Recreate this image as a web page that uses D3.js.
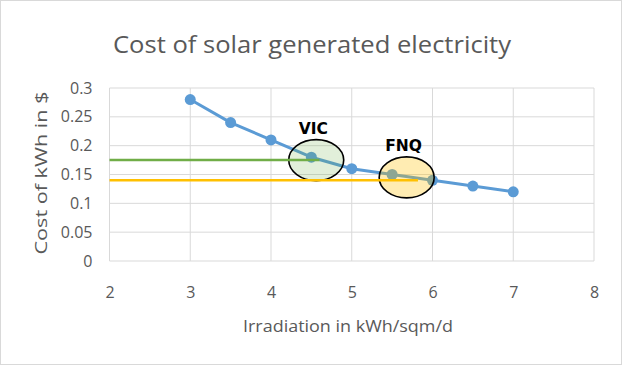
<!DOCTYPE html>
<html><head><meta charset="utf-8">
<script src="https://cdn.jsdelivr.net/npm/d3@7"></script>
<style>body{margin:0;background:#fff}svg{display:block}</style>
</head><body>
<script>
const irradiation = [3, 3.5, 4, 4.5, 5, 5.5, 6, 6.5, 7];
const cost = [0.28, 0.24, 0.21, 0.18, 0.16, 0.15, 0.14, 0.13, 0.12];
const xTicks = [2, 3, 4, 5, 6, 7, 8];
const yTicks = [0, 0.05, 0.1, 0.15, 0.2, 0.25, 0.3];
const refLabels = ["VIC", "FNQ"];
const refCost = [0.175, 0.14];
const refEndX = [4.6, 5.82];
const refColors = ["#70ad47", "#ffc000"];
const ellCx = [4.56, 5.68];
const ellCy = [0.175, 0.145];
const ellFill = ["rgba(112,173,71,0.2)", "rgba(255,192,0,0.3)"];

const W = 623, H = 366;
const svg = d3.select("body").append("svg").attr("width", W).attr("height", H);
svg.append("rect").attr("x", 0.5).attr("y", 0.5).attr("width", W - 2).attr("height", H - 2)
  .attr("fill", "#fff").attr("stroke", "#d9d9d9");

const x = d3.scaleLinear().domain([2, 8]).range([109.5, 594]);
const y = d3.scaleLinear().domain([0, 0.3]).range([261, 88]);
const font = "Open Sans, Noto Sans, sans-serif";

// gridlines
svg.append("g").selectAll("line").data(yTicks).join("line")
  .attr("x1", x(2)).attr("x2", x(8)).attr("y1", d => y(d)).attr("y2", d => y(d))
  .attr("stroke", "#d9d9d9").attr("stroke-width", 1);
svg.append("g").selectAll("line").data(xTicks).join("line")
  .attr("y1", y(0)).attr("y2", y(0.3)).attr("x1", d => x(d)).attr("x2", d => x(d))
  .attr("stroke", "#d9d9d9").attr("stroke-width", 1);

// axes labels
const yAxis = d3.axisLeft(y).tickValues(yTicks).tickFormat(d => d3.format("")(+d.toFixed(2))).tickSize(0).tickPadding(17);
const gy = svg.append("g").attr("transform", `translate(${x(2)},0)`).call(yAxis);
gy.select(".domain").remove();
gy.selectAll("text").attr("font-family", font).attr("font-size", 16).attr("fill", "#595959");

const xAxis = d3.axisBottom(x).tickValues(xTicks).tickFormat(d3.format("d")).tickSize(0).tickPadding(26);
const gx = svg.append("g").attr("transform", `translate(0,${y(0)})`).call(xAxis);
gx.select(".domain").remove();
gx.selectAll("text").attr("font-family", font).attr("font-size", 16).attr("fill", "#595959");

// title
svg.append("text").attr("x", 312).attr("y", 53).attr("text-anchor", "middle")
  .attr("font-family", font).attr("font-size", 24).attr("fill", "#595959")
  .attr("textLength", 398).attr("lengthAdjust", "spacingAndGlyphs").text("Cost of solar generated electricity");
svg.append("text").attr("x", 348).attr("y", 332).attr("text-anchor", "middle")
  .attr("font-family", font).attr("font-size", 17).attr("fill", "#595959")
  .attr("textLength", 210).attr("lengthAdjust", "spacingAndGlyphs").text("Irradiation in kWh/sqm/d");
svg.append("text").attr("transform", "translate(47,173) rotate(-90)").attr("text-anchor", "middle")
  .attr("font-family", font).attr("font-size", 17).attr("fill", "#595959")
  .attr("textLength", 163).attr("lengthAdjust", "spacingAndGlyphs").text("Cost of kWh in $");

// series
const line = d3.line().x((d, i) => x(irradiation[i])).y(d => y(d));
svg.append("path").datum(cost).attr("d", line).attr("fill", "none")
  .attr("stroke", "#5b9bd5").attr("stroke-width", 3).attr("stroke-linejoin", "round");
svg.append("g").selectAll("circle").data(cost).join("circle")
  .attr("cx", (d, i) => x(irradiation[i])).attr("cy", d => y(d)).attr("r", 5.5)
  .attr("fill", "#5b9bd5");

// ellipses
svg.append("g").selectAll("ellipse").data(ellCx).join("ellipse")
  .attr("cx", d => x(d)).attr("cy", (d, i) => y(ellCy[i])).attr("rx", 27.5).attr("ry", 20.5)
  .attr("fill", (d, i) => ellFill[i]).attr("stroke", "#000").attr("stroke-width", 1.6);

// reference lines (drawn over ellipses)
svg.append("g").selectAll("line").data(refCost).join("line")
  .attr("x1", x(2)).attr("x2", (d, i) => x(refEndX[i]))
  .attr("y1", d => y(d)).attr("y2", d => y(d))
  .attr("stroke", (d, i) => refColors[i]).attr("stroke-width", 2.5);

// annotation labels
svg.append("g").selectAll("text").data(refLabels).join("text")
  .attr("x", (d, i) => x(ellCx[i]) - 3).attr("y", (d, i) => y(ellCy[i]) - 26)
  .attr("text-anchor", "middle").attr("font-family", "DejaVu Sans, sans-serif")
  .attr("font-weight", "bold").attr("font-size", 15.5).attr("fill", "#000").text(d => d);
</script>
</body></html>
